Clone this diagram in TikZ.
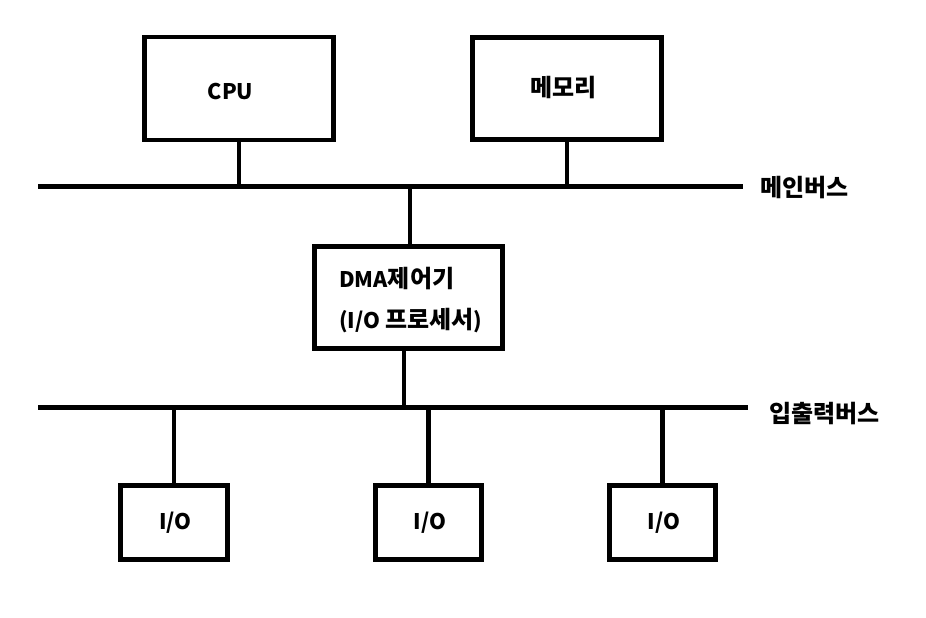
\documentclass[tikz,border=0pt]{standalone}
\usepackage{fontspec}
\setmainfont{Noto Sans CJK KR}
\newcommand{\hg}[1]{{\fontsize{24}{28}\selectfont #1}}
\begin{document}
\begin{tikzpicture}[x=1pt,y=-1pt,
  box/.style={draw=black,line width=4.5pt,fill=white,inner sep=0pt},
  wire/.style={draw=black,line width=4.5pt},
  lbl/.style={font=\fontsize{21.5}{26}\selectfont\bfseries,inner sep=0pt}]
\useasboundingbox (0,0) rectangle (926,618);
% buses
\coordinate (mbL) at (38,186.5);
\coordinate (mbR) at (743,186.5);
\coordinate (ibL) at (38,407.5);
\coordinate (ibR) at (748,407.5);
\draw[wire] (mbL) -- (mbR);
\draw[wire] (ibL) -- (ibR);
% boxes
\node[box,minimum width=189pt,minimum height=103pt] (cpu) at (239,88.5) {};
\node[box,minimum width=189pt,minimum height=102pt] (mem) at (567,88.5) {};
\node[box,minimum width=188pt,minimum height=102pt] (dma) at (408.5,297.5) {};
\node[box,minimum width=107pt,minimum height=74pt] (io1) at (174,522.5) {};
\node[box,minimum width=106pt,minimum height=74pt] (io2) at (428.5,522.5) {};
\node[box,minimum width=106pt,minimum height=74pt] (io3) at (662.5,522.5) {};
% connectors
\draw[wire] (cpu.south) -- (cpu.south |- mbL);
\draw[wire] (mem.south) -- (mem.south |- mbL);
\draw[wire] ([xshift=1.5pt]dma.north) -- ([xshift=1.5pt]dma.north |- mbL);
\draw[wire] ([xshift=-4.5pt]dma.south) -- ([xshift=-4.5pt]dma.south |- ibL);
\draw[wire] (io1.north) -- (io1.north |- ibL);
\draw[wire] (io2.north) -- (io2.north |- ibL);
\draw[wire] (io3.north) -- (io3.north |- ibL);
% texts
\node[lbl] (tcpu) at (230.5,92) {CPU};
\node[lbl] (tmem) at (563.5,88) {\hg{메모리}};
\node[lbl,anchor=west] (tdma1) at (339,279) {DMA\hg{제어기}};
\node[lbl,anchor=west] (tdma2) at (339,321) {(I/O \hg{프로세서})};
\node[lbl] (tio1) at (175.5,523) {I/O};
\node[lbl] (tio2) at (430,523) {I/O};
\node[lbl] (tio3) at (664,523) {I/O};
\node[lbl,anchor=west] (tmb) at (760,188) {\hg{메인버스}};
\node[lbl,anchor=west] (tib) at (769,414) {\hg{입출력버스}};
\end{tikzpicture}
\end{document}
